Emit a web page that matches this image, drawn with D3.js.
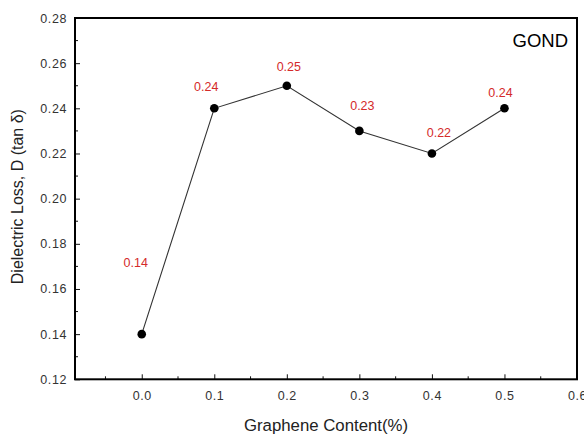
<!DOCTYPE html>
<html>
<head>
<meta charset="utf-8">
<script src="https://cdn.jsdelivr.net/npm/d3@7"></script>
<style>
  html, body { margin: 0; padding: 0; background: #fff; }
  svg { display: block; }
  text { font-family: Arial, "Liberation Sans", sans-serif; }
</style>
</head>
<body>
<svg id="chart" width="584" height="435"></svg>
<script>
// Graphene content (%) and dielectric loss tan δ
const content = [0.0, 0.1, 0.2, 0.3, 0.4, 0.5];
const lossD = [0.14, 0.24, 0.25, 0.23, 0.22, 0.24];
const lossLabels = ["0.14", "0.24", "0.25", "0.23", "0.22", "0.24"];
const xTicks = [0.0, 0.1, 0.2, 0.3, 0.4, 0.5, 0.6];
const yTicks = [0.12, 0.14, 0.16, 0.18, 0.20, 0.22, 0.24, 0.26, 0.28];
// label nudges (px) relative to each point
const labelDx = [-6, -8, 2, 3, 7, -4];
const labelDy = [-67, -17, -15, -21, -16, -11];

const svg = d3.select("#chart");
const m = { left: 75, right: 7, top: 18, bottom: 55 };
const W = 584, H = 435;

const x = d3.scaleLinear().domain([-0.092, 0.6]).range([m.left, W - m.right]);
const y = d3.scaleLinear().domain([0.12, 0.28]).range([H - m.bottom - 0.7, m.top]);

const g = svg.append("g");

// minor ticks (inward)
const xMinor = d3.range(-0.05, 0.6, 0.1);
const yMinor = d3.range(0.13, 0.28, 0.02);

const tickCol = "#111";
// bottom axis
const xAxis = d3.axisBottom(x).tickValues(xTicks).tickSize(-5).tickPadding(12)
  .tickFormat(d3.format(".1f"));
const gx = g.append("g").attr("transform", `translate(0,${y(0.12)})`).call(xAxis);
gx.select(".domain").remove();
gx.selectAll(".tick line").attr("stroke", tickCol).attr("stroke-width", 1);
gx.selectAll(".tick text").attr("font-size", 12.5).attr("fill", "#333")
  .attr("letter-spacing", "0.6px");
g.append("g").selectAll("line").data(xMinor).join("line")
  .attr("x1", d => x(d)).attr("x2", d => x(d))
  .attr("y1", y(0.12)).attr("y2", y(0.12) - 3)
  .attr("stroke", tickCol).attr("stroke-width", 1);

// left axis
const yAxis = d3.axisLeft(y).tickValues(yTicks).tickSize(-5).tickPadding(8)
  .tickFormat(d3.format(".2f"));
const gy = g.append("g").attr("transform", `translate(${x(-0.092)},0)`).call(yAxis);
gy.select(".domain").remove();
gy.selectAll(".tick line").attr("stroke", tickCol).attr("stroke-width", 1);
gy.selectAll(".tick text").attr("font-size", 12.5).attr("fill", "#333")
  .attr("letter-spacing", "0.6px");
g.append("g").selectAll("line").data(yMinor).join("line")
  .attr("x1", x(-0.092)).attr("x2", x(-0.092) + 3)
  .attr("y1", d => y(d)).attr("y2", d => y(d))
  .attr("stroke", tickCol).attr("stroke-width", 1);

// frame
g.append("rect")
  .attr("x", x(-0.092)).attr("y", y(0.28))
  .attr("width", x(0.6) - x(-0.092)).attr("height", y(0.12) - y(0.28))
  .attr("fill", "none").attr("stroke", "#000").attr("stroke-width", 2);

// series line
const pts = content.map((c, i) => ({ c, v: lossD[i], t: lossLabels[i], i }));
g.append("path").datum(pts)
  .attr("d", d3.line().x(d => x(d.c)).y(d => y(d.v)))
  .attr("fill", "none").attr("stroke", "#333").attr("stroke-width", 1.1);

g.append("g").selectAll("circle").data(pts).join("circle")
  .attr("cx", d => x(d.c)).attr("cy", d => y(d.v)).attr("r", 4.3)
  .attr("fill", "#000");

// value labels
g.append("g").selectAll("text").data(pts).join("text")
  .attr("x", d => x(d.c) + labelDx[d.i])
  .attr("y", d => y(d.v) + labelDy[d.i])
  .attr("text-anchor", "middle")
  .attr("font-size", 12.5)
  .attr("fill", "#d42a2a")
  .text(d => d.t);

// series tag
g.append("text").attr("x", 568).attr("y", 47).attr("text-anchor", "end")
  .attr("font-size", 18.5).attr("fill", "#000").text("GOND");

// axis titles
g.append("text").attr("x", 326).attr("y", 431).attr("text-anchor", "middle")
  .attr("font-size", 16.8).attr("fill", "#222").text("Graphene Content(%)");
g.append("text")
  .attr("transform", `translate(23,${(y(0.12) + y(0.28)) / 2 - 2}) rotate(-90)`)
  .attr("text-anchor", "middle")
  .attr("font-size", 16).attr("fill", "#222").text("Dielectric Loss, D (tan δ)");
</script>
</body>
</html>
